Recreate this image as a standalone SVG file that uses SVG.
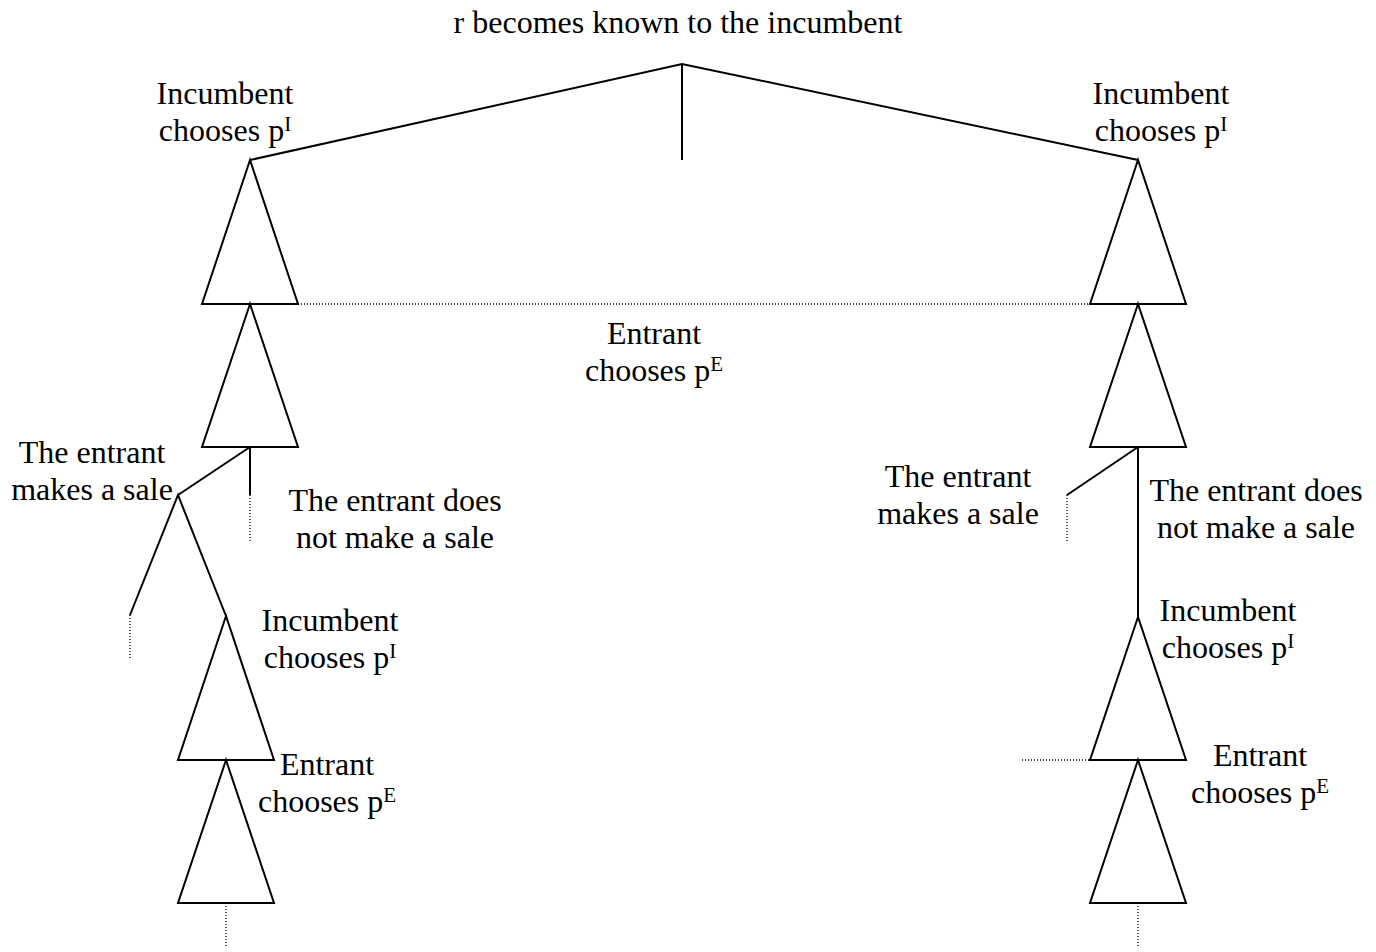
<svg xmlns="http://www.w3.org/2000/svg" width="1376" height="952" viewBox="0 0 1376 952">
<style>
  .t { font-family: "Liberation Serif", "Times New Roman", serif; font-size: 32px; fill: #000; text-anchor: middle; }
  .sup { font-size: 21px; }
  .tri { fill: none; stroke: #000; stroke-width: 2; stroke-linejoin: miter; }
  .ln { fill: none; stroke: #000; stroke-width: 2; }
  .dot { fill: none; stroke: #000; stroke-width: 1.3; stroke-dasharray: 1 2; }
</style>
<rect width="1376" height="952" fill="#fff"/>

<g id="title">
  <text class="t" x="678" y="33">r becomes known to the incumbent</text>
</g>

<g id="connectors">
  <polyline class="ln" points="250,160 682,64 1138,160"/>
  <line class="ln" x1="682" y1="64" x2="682" y2="160"/>
  <line class="dot" x1="298" y1="304" x2="1090" y2="304"/>
  <line class="ln" x1="250" y1="447" x2="178" y2="495"/>
  <line class="ln" x1="250" y1="447" x2="250" y2="495"/>
  <line class="dot" x1="250" y1="495" x2="250" y2="541"/>
  <line class="dot" x1="130" y1="615" x2="130" y2="660"/>
  <line class="dot" x1="226" y1="903" x2="226" y2="948"/>
  <line class="ln" x1="1138" y1="447" x2="1067" y2="495"/>
  <line class="dot" x1="1067" y1="495" x2="1067" y2="541"/>
  <line class="ln" x1="1138" y1="447" x2="1138" y2="617"/>
  <line class="dot" x1="1022" y1="760" x2="1090" y2="760"/>
  <line class="dot" x1="1138" y1="903" x2="1138" y2="948"/>
</g>

<g id="left-incumbent-1">
  <polygon class="tri" points="250,160 202,304 298,304"/>
  <text class="t" x="225" y="104">Incumbent</text>
  <text class="t" x="225" y="141">chooses p<tspan class="sup" dy="-10">I</tspan></text>
</g>

<g id="right-incumbent-1">
  <polygon class="tri" points="1138,160 1090,304 1186,304"/>
  <text class="t" x="1161" y="104">Incumbent</text>
  <text class="t" x="1161" y="141">chooses p<tspan class="sup" dy="-10">I</tspan></text>
</g>

<g id="center-entrant">
  <text class="t" x="654" y="344">Entrant</text>
  <text class="t" x="654" y="381">chooses p<tspan class="sup" dy="-10">E</tspan></text>
</g>

<g id="left-entrant-1">
  <polygon class="tri" points="250,304 202,447 298,447"/>
</g>

<g id="right-entrant-1">
  <polygon class="tri" points="1138,304 1090,447 1186,447"/>
</g>

<g id="left-sale">
  <text class="t" x="92" y="463">The entrant</text>
  <text class="t" x="92" y="500">makes a sale</text>
</g>

<g id="left-nosale">
  <text class="t" x="395" y="511">The entrant does</text>
  <text class="t" x="395" y="548">not make a sale</text>
</g>

<g id="left-open">
  <polyline class="ln" points="130,615 178,495 226,616"/>
</g>

<g id="left-incumbent-2">
  <polygon class="tri" points="226,616 178,760 274,760"/>
  <text class="t" x="330" y="631">Incumbent</text>
  <text class="t" x="330" y="668">chooses p<tspan class="sup" dy="-10">I</tspan></text>
</g>

<g id="left-entrant-2">
  <polygon class="tri" points="226,760 178,903 274,903"/>
  <text class="t" x="327" y="775">Entrant</text>
  <text class="t" x="327" y="812">chooses p<tspan class="sup" dy="-10">E</tspan></text>
</g>

<g id="right-sale">
  <text class="t" x="958" y="487">The entrant</text>
  <text class="t" x="958" y="524">makes a sale</text>
</g>

<g id="right-nosale">
  <text class="t" x="1256" y="501">The entrant does</text>
  <text class="t" x="1256" y="538">not make a sale</text>
</g>

<g id="right-incumbent-2">
  <polygon class="tri" points="1138,617 1090,760 1186,760"/>
  <text class="t" x="1228" y="621">Incumbent</text>
  <text class="t" x="1228" y="658">chooses p<tspan class="sup" dy="-10">I</tspan></text>
</g>

<g id="right-entrant-2">
  <polygon class="tri" points="1138,760 1090,903 1186,903"/>
  <text class="t" x="1260" y="766">Entrant</text>
  <text class="t" x="1260" y="803">chooses p<tspan class="sup" dy="-10">E</tspan></text>
</g>
</svg>
